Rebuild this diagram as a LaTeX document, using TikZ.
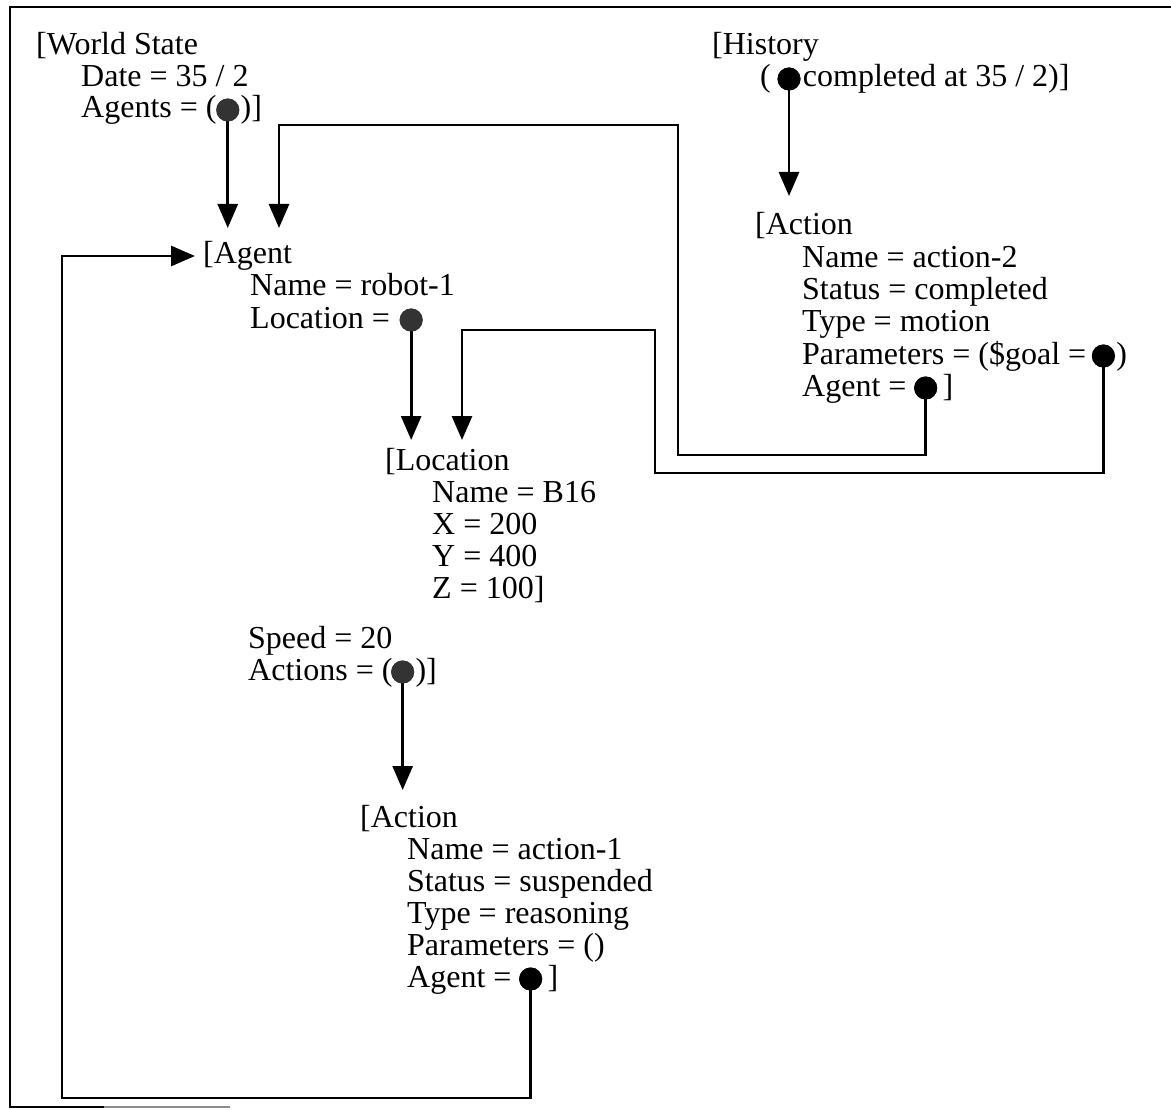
\documentclass[tikz,border=0pt]{standalone}
\usepackage{fontspec}
\setmainfont{Liberation Serif}
\usetikzlibrary{arrows.meta,calc}

\begin{document}
\begin{tikzpicture}[x=1pt,y=-1pt,
  txt/.style={anchor=base west, inner sep=0pt, font=\fontsize{32}{32}\selectfont},
  ref/.style={circle, fill=black, minimum size=23pt, inner sep=0pt},
  greyref/.style={ref, fill=black!80},
  conn/.style={line width=2.8pt, draw=black, line join=miter},
  arr/.style={conn, -{Triangle[width=20pt,length=24pt]}}
]
\useasboundingbox (0,0) rectangle (1171,1110);
\fill[white] (0,0) rectangle (1171,1110);

% open outer frame
\draw[line width=2.8pt] (1171,7) -- (10,7) -- (10,1107) -- (104,1107);
\draw[line width=2pt, black!45] (104,1107) -- (230,1107);

% ---- World State ----
\node[txt] (ws1) at (36,55)  {[World State};
\node[txt] (ws2) at (81,87)  {Date = 35 / 2};
\node[txt] (ws3) at (81,118) {Agents = (};
\node[greyref] (dWS) at ($(ws3.base east)+(11,-8)$) {};
\node[txt, xshift=1pt] (ws4) at (dWS.east |- ws3.base) {)]};

% ---- History ----
\node[txt] (h1) at (712,55) {[History};
\node[txt] (h2) at (760,87) {(};
\node[ref] (dH) at (789,79) {};
\node[txt, xshift=2pt] (h3) at (dH.east |- h2.base) {completed at 35 / 2)]};

% ---- Action (history) ----
\node[txt] (b1) at (755,235) {[Action};
\node[txt] (b2) at (802,268) {Name = action-2};
\node[txt] (b3) at (802,300) {Status = completed};
\node[txt] (b4) at (802,332) {Type = motion};
\node[txt] (b5) at (802,364) {Parameters = (\$goal =};
\node[ref] (dGoal) at ($(b5.base east)+(17,-8)$) {};
\node[txt, xshift=1pt] (b5b) at (dGoal.east |- b5.base) {)};
\node[txt] (b6) at (802,396) {Agent =};
\node[ref] (dB) at ($(b6.base east)+(19,-8)$) {};
\node[txt, xshift=5pt] (b6b) at (dB.east |- b6.base) {]};

% ---- Agent ----
\node[txt] (ag1) at (203,264) {[Agent};
\node[txt] (ag2) at (250,296) {Name = robot-1};
\node[txt] (ag3) at (250,328) {Location =};
\node[greyref] (dLoc) at ($(ag3.base east)+(21,-8)$) {};

% ---- Location ----
\node[txt] (l1) at (385,470) {[Location};
\node[txt] (l2) at (432,502) {Name = B16};
\node[txt] (l3) at (432,534) {X = 200};
\node[txt] (l4) at (432,566) {Y = 400};
\node[txt] (l5) at (432,598) {Z = 100]};

% ---- rest of Agent ----
\node[txt] (ag4) at (248,648) {Speed = 20};
\node[txt] (ag5) at (248,680) {Actions = (};
\node[greyref] (dAct) at ($(ag5.base east)+(10,-8)$) {};
\node[txt, xshift=1pt] (ag6) at (dAct.east |- ag5.base) {)]};

% ---- Action (current) ----
\node[txt] (c1) at (360,827) {[Action};
\node[txt] (c2) at (407,859) {Name = action-1};
\node[txt] (c3) at (407,891) {Status = suspended};
\node[txt] (c4) at (407,923) {Type = reasoning};
\node[txt] (c5) at (407,955) {Parameters = ()};
\node[txt] (c6) at (407,987) {Agent =};
\node[ref] (dC) at ($(c6.base east)+(19,-8)$) {};
\node[txt, xshift=5pt] (c6b) at (dC.east |- c6.base) {]};

% arrow tips
\coordinate (inAgA) at (dWS |- 0,228);
\coordinate (inAgB) at (279,228);
\coordinate (inAgL) at (195,256);
\coordinate (inLocA) at (dLoc |- 0,440);
\coordinate (inLocB) at (462,440);
\coordinate (inB) at (dH |- 0,196);
\coordinate (inC) at (dAct |- 0,790);

% ---- connectors ----
\draw[arr] (dWS.center) -- (inAgA);
\draw[arr] (dB.center) -- (dB.center |- 0,455) -- (678,455) -- (678,125) -| (inAgB);
\draw[arr] (dLoc.center) -- (inLocA);
\draw[arr] (dGoal.center) -- (dGoal.center |- 0,473) -- (655,473) -- (655,330) -| (inLocB);
\draw[arr] (dH.center) -- (inB);
\draw[arr] (dAct.center) -- (inC);
\draw[arr] (dC.center) -- (dC.center |- 0,1098) -- (62,1098) -- (62,256) -- (inAgL);

% dots on top of their connectors
\node[greyref] at (dWS) {};
\node[ref] at (dH) {};
\node[ref] at (dGoal) {};
\node[ref] at (dB) {};
\node[greyref] at (dLoc) {};
\node[greyref] at (dAct) {};
\node[ref] at (dC) {};
\end{tikzpicture}
\end{document}
